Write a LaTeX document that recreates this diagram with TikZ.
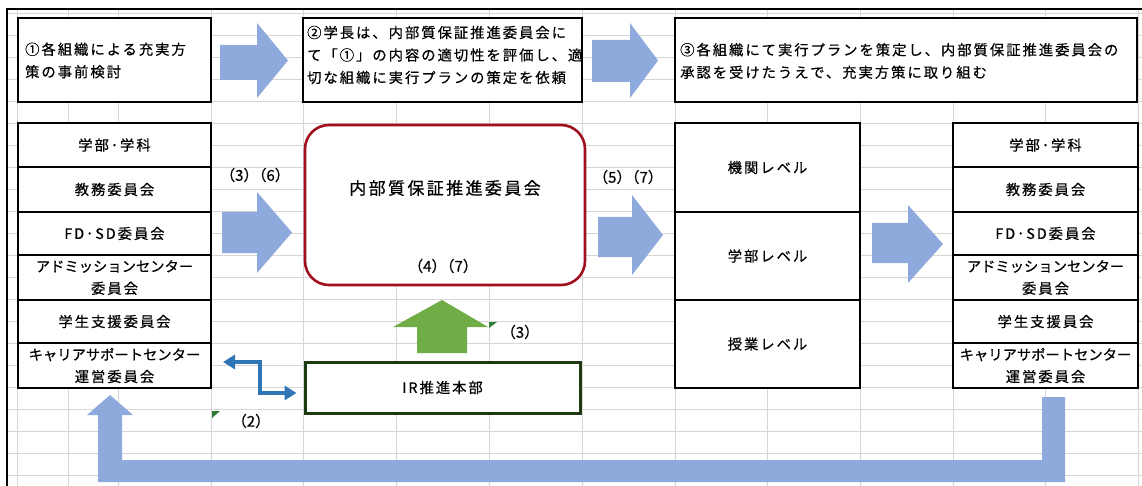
\documentclass[tikz,border=0pt]{standalone}
\usepackage{fontspec}
\usetikzlibrary{arrows.meta,calc}
\newfontfamily\jp[FakeBold=0.5]{Noto Sans CJK JP}
\newfontfamily\jpls[LetterSpace=14,FakeBold=0.5]{Noto Sans CJK JP}
\definecolor{blk}{HTML}{8EA9DB}
\definecolor{grn}{HTML}{70AD47}
\definecolor{dred}{HTML}{A00F1E}
\definecolor{dgrn}{HTML}{1F3A12}
\definecolor{cmark}{HTML}{2E7D32}
\definecolor{elb}{HTML}{2E75B6}
\definecolor{gridc}{HTML}{D6D6D6}
\newcommand\pairlbl[2]{（#1）\kern-7pt（#2）}
\tikzset{
  cell/.style={draw=black, line width=1.3, fill=white, inner sep=0pt, outer sep=0pt,
    align=center, font=\jpls\fontsize{14.3}{22}\selectfont},
  lcell/.style={cell, minimum width=193},
  rcell/.style={cell, minimum width=185},
  txt/.style={inner sep=0pt, align=left, font=\jpls\fontsize{14.3}{22.5}\selectfont},
  lbl/.style={inner sep=0pt, font=\jp\fontsize{15}{17}\selectfont},
  blockarrow/.style={fill=blk, draw=none},
}
\begin{document}
\begin{tikzpicture}[x=1pt,y=-1pt]
\useasboundingbox (0,0) rectangle (1142,486);
\fill[white] (0,0) rectangle (1142,486);
% spreadsheet grid
\foreach \x in {17,68,118,211,303,396,489,582,675,767,860,953,1045,1138}
  \draw[gridc, line width=0.9] (\x,9) -- (\x,486);
\foreach \k in {0,...,21}
  \draw[gridc, line width=0.9] (7,{13+22*\k}) -- (1142,{13+22*\k});
\draw[black, line width=1.6] (7,486) -- (7,9) -- (1142,9);

% top boxes
\node[cell, minimum width=193, minimum height=84, anchor=north west] (t1) at (18,18) {};
\node[cell, minimum width=279, minimum height=84, anchor=north west] (t2) at (303,18) {};
\node[cell, minimum width=462, minimum height=84, anchor=north west] (t3) at (675,18) {};
\node[txt, anchor=west] (t1txt) at (25,60.5) {①各組織による充実方\\策の事前検討};
\node[txt, anchor=west] (t2txt) at (307,55) {②学長は、内部質保証推進委員会に\\て「①」の内容の適切性を評価し、適\\切な組織に実行プランの策定を依頼};
\node[txt, anchor=west] (t3txt) at (680,61) {③各組織にて実行プランを策定し、内部質保証推進委員会の\\承認を受けたうえで、充実方策に取り組む};

% top block arrows
\fill[blockarrow] (220,45) -- (257,45) -- (257,23) -- (288,60.5) -- (257,98) -- (257,80) -- (220,80) -- cycle;
\fill[blockarrow] (592,40) -- (630,40) -- (630,23) -- (658,60.5) -- (630,98) -- (630,82) -- (592,82) -- cycle;

% left column
\node[lcell, minimum height=44] (L1) at (114.5,145) {学部･学科};
\node[lcell, minimum height=45] (L2) at (114.5,189.5) {教務委員会};
\node[lcell, minimum height=43] (L3) at (114.5,233.5) {FD･SD委員会};
\node[lcell, minimum height=45] (L4) at (114.5,277.5) {{\jp アドミッションセンター}\\委員会};
\node[lcell, minimum height=43] (L5) at (114.5,321.5) {学生支援委員会};
\node[lcell, minimum height=45] (L6) at (114.5,365.5) {{\jp キャリアサポートセンター}\\運営委員会};

% right column
\node[rcell, minimum height=44] (R1) at (1045.5,145) {学部･学科};
\node[rcell, minimum height=45] (R2) at (1045.5,189.5) {教務委員会};
\node[rcell, minimum height=43] (R3) at (1045.5,233.5) {FD･SD委員会};
\node[rcell, minimum height=45] (R4) at (1045.5,277.5) {{\jp アドミッションセンター}\\委員会};
\node[rcell, minimum height=43] (R5) at (1045.5,321.5) {学生支援員会};
\node[rcell, minimum height=45] (R6) at (1045.5,365.5) {{\jp キャリアサポートセンター}\\運営委員会};

% middle levels
\node[rcell, minimum height=89] (M1) at (767.5,167.5) {機関レベル};
\node[rcell, minimum height=88] (M2) at (767.5,256) {学部レベル};
\node[rcell, minimum height=88] (M3) at (767.5,344) {授業レベル};

% committee
\node[draw=dred, line width=2.6, rounded corners=24, fill=white, minimum width=280, minimum height=160, inner sep=0pt] (com) at (445,205) {};
\node[inner sep=0pt, font=\jpls\fontsize{17}{20}\selectfont] (comtxt) at (445,188) {内部質保証推進委員会};
\node[lbl] (l47) at (443,266) {\pairlbl{4}{7}};

% IR
\node[draw=dgrn, line width=3, fill=white, minimum width=275, minimum height=51, inner sep=0pt,
  font=\jpls\fontsize{14.3}{16}\selectfont] (ir) at (442.5,387.5) {IR推進本部};

% middle block arrows
\fill[blockarrow] (222,212) -- (257,212) -- (257,192) -- (292,232.5) -- (257,273) -- (257,253) -- (222,253) -- cycle;
\fill[blockarrow] (598,217) -- (632,217) -- (632,195) -- (663,235) -- (632,275) -- (632,257) -- (598,257) -- cycle;
\fill[blockarrow] (872,223) -- (908,223) -- (908,205) -- (943,244) -- (908,283) -- (908,263) -- (872,263) -- cycle;
\node[lbl] (l36) at (255,175) {\pairlbl{3}{6}};
\node[lbl] (l57) at (628,177) {\pairlbl{5}{7}};

% green arrow
\fill[grn] (417,353) -- (417,327) -- (393,327) -- (442,300) -- (488,327) -- (467,327) -- (467,353) -- cycle;
\node[lbl] (l3) at (520,332) {（3）};
\fill[cmark] (489,322) -- (497,322) -- (489,328) -- cycle;

% elbow double arrow
\coordinate (e1) at ($(L6.east)+(12,-3.5)$);
\coordinate (e2) at ($(ir.west)+(-7,5.5)$);
\draw[elb, line width=4, {Triangle[length=12,width=14]}-{Triangle[length=12,width=14]}]
  (e1) -| ($(e1)!.5!(e2)$) |- (e2);
\node[lbl] (l2) at (251,421) {（2）};
\fill[cmark] (212,411) -- (220,411) -- (212,418) -- cycle;

% feedback loop arrow
\fill[blockarrow] (1042,397) -- (1065,397) -- (1065,482) -- (98,482) -- (98,415) -- (87,415)
  -- (110,395) -- (133,415) -- (122,415) -- (122,460) -- (1042,460) -- cycle;
\end{tikzpicture}
\end{document}
